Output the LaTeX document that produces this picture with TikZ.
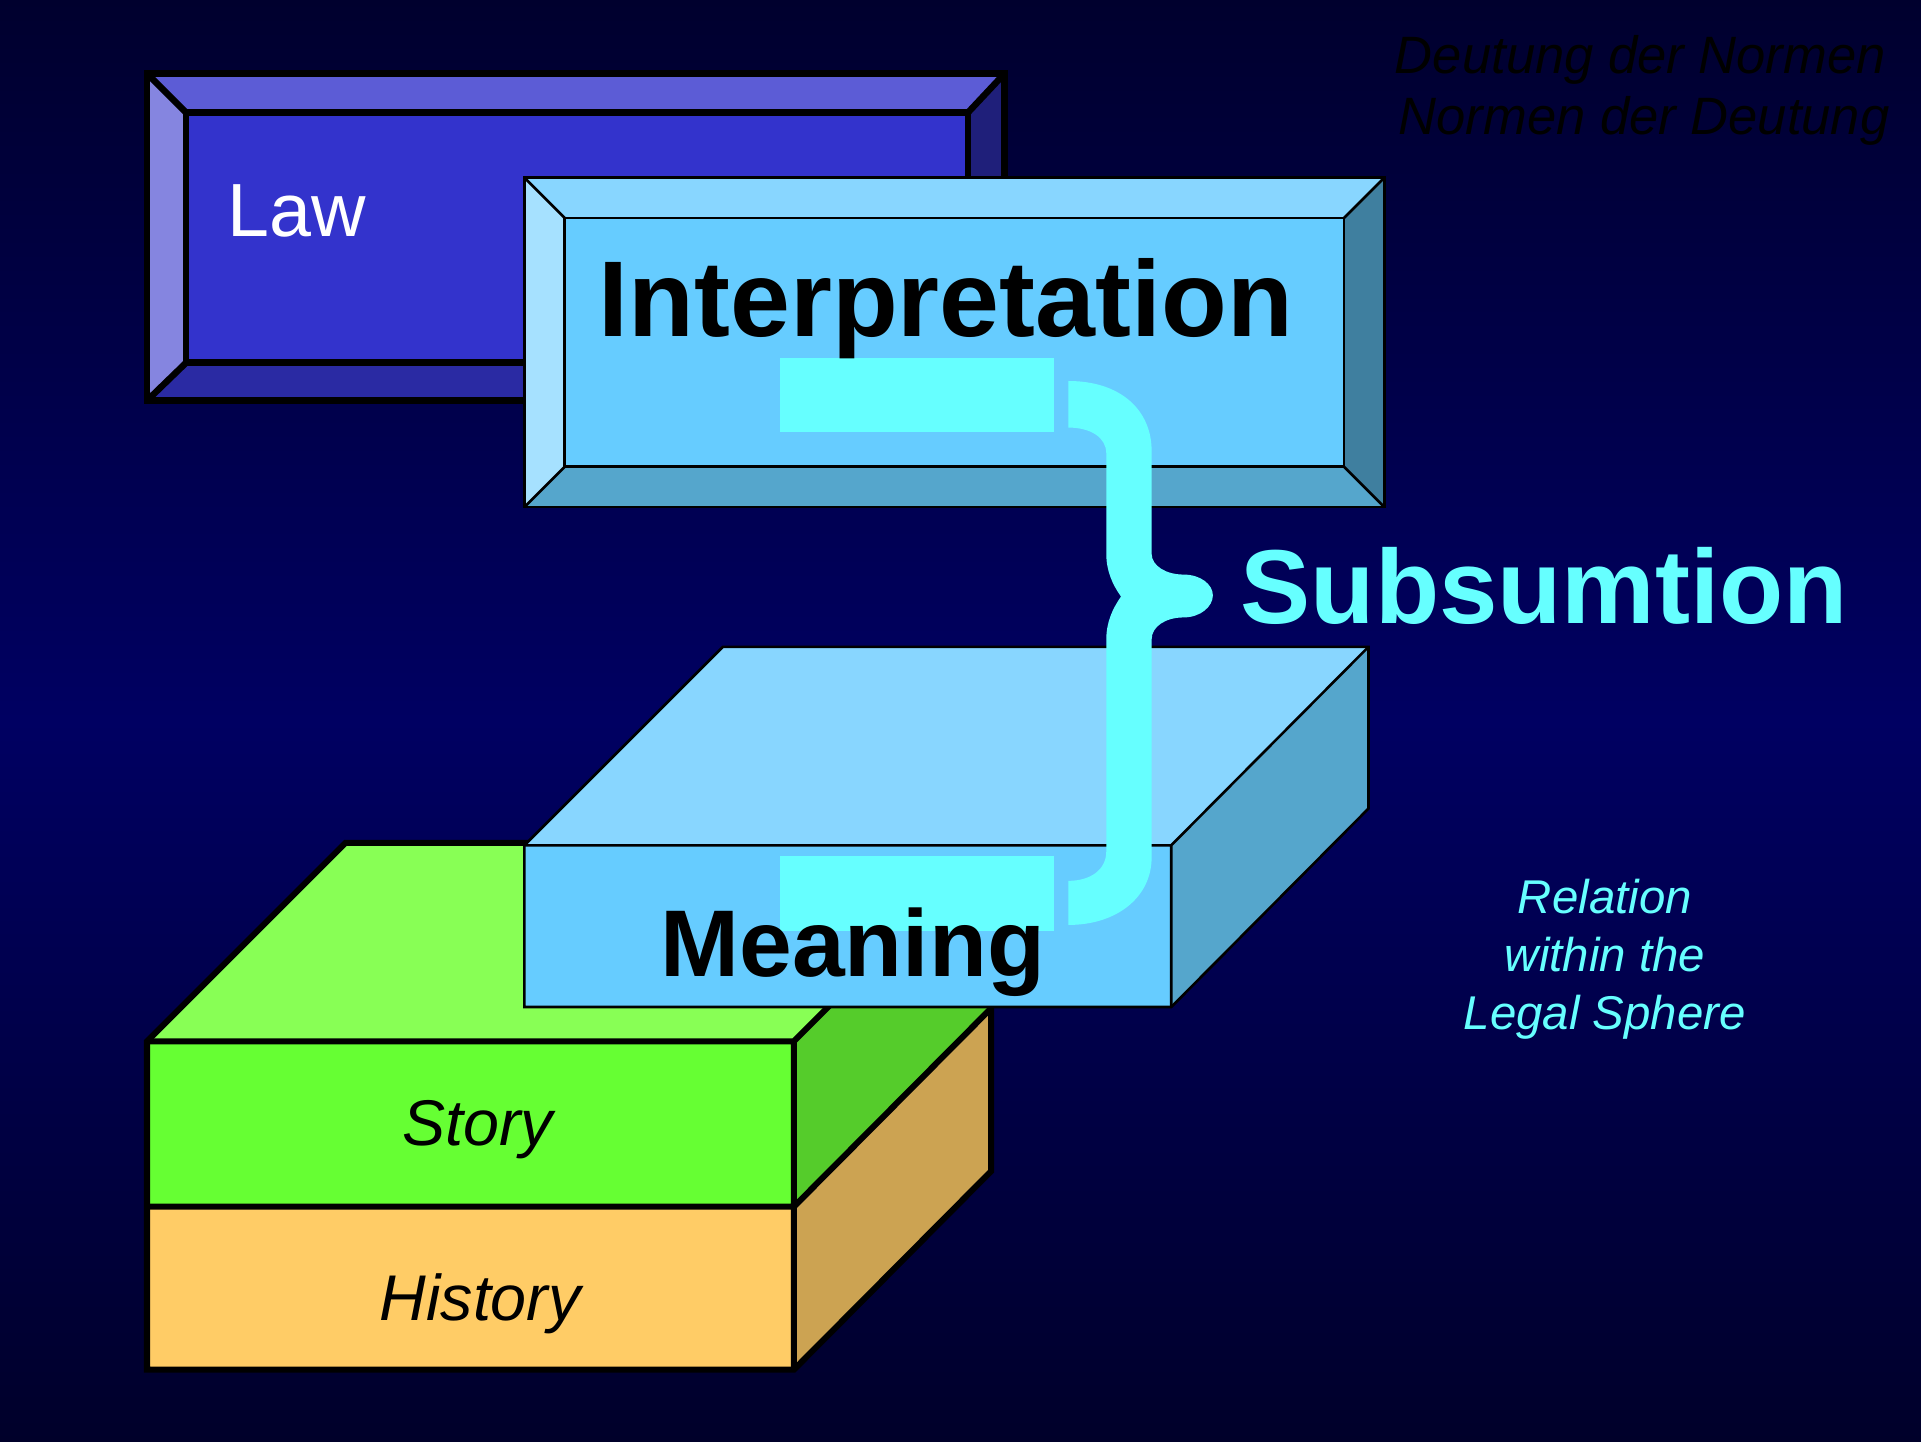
\documentclass[tikz,border=0pt]{standalone}
\usepackage{fontspec}
\setmainfont{Liberation Sans}
\usepackage{xcolor}
\usepackage{tikz}
\usetikzlibrary{positioning}
\definecolor{bgtop}{HTML}{00002E}
\definecolor{bgmid}{HTML}{000062}
\definecolor{bgbottom}{HTML}{00002A}
\definecolor{lawface}{HTML}{3333CC}
\definecolor{lawtop}{HTML}{5C5CD6}
\definecolor{lawleft}{HTML}{8585E0}
\definecolor{lawright}{HTML}{1F1F7A}
\definecolor{lawbottom}{HTML}{2A2AA3}
\definecolor{skyface}{HTML}{66CCFF}
\definecolor{skytop}{HTML}{88D6FF}
\definecolor{skyleft}{HTML}{A6E1FF}
\definecolor{skyright}{HTML}{3F7F9F}
\definecolor{skybottom}{HTML}{55A6CC}
\definecolor{storytop}{HTML}{88FF55}
\definecolor{storyfront}{HTML}{66FF33}
\definecolor{storyside}{HTML}{55CC2B}
\definecolor{historyfront}{HTML}{FFCC66}
\definecolor{historyside}{HTML}{CCA352}
\definecolor{accentcyan}{HTML}{66FFFF}
\tikzset{
  law_edge/.style={draw=black, line width=1.5pt, line join=miter},
  sky_edge/.style={draw=black, line width=0.6pt, line join=miter},
  block_edge/.style={draw=black, line width=1.4pt, line join=miter},
  accent_bar/.style={fill=accentcyan},
  label_big/.style={inner sep=0pt, font=\fontsize{25}{30}\selectfont\bfseries},
  label_mid/.style={inner sep=0pt, font=\fontsize{22}{26}\selectfont\bfseries},
  label_slant/.style={inner sep=0pt, font=\fontsize{15}{18}\selectfont\itshape},
  label_note/.style={inner sep=0pt, font=\fontsize{12.2}{14.2}\selectfont\itshape}
}
\begin{document}
\begin{tikzpicture}[x=0.01cm, y=-0.01cm]
% background
\path[use as bounding box, top color=bgtop, bottom color=bgbottom, middle color=bgmid] (0,0) rectangle (1568,1177);
% law box
\fill[lawtop] (120,60) -- (820,60) -- (790,92) -- (152,92) -- cycle;
\fill[lawleft] (120,60) -- (152,92) -- (152,296) -- (120,327) -- cycle;
\fill[lawright] (820,60) -- (820,327) -- (790,296) -- (790,92) -- cycle;
\fill[lawbottom] (120,327) -- (820,327) -- (790,296) -- (152,296) -- cycle;
\fill[lawface] (152,92) rectangle (790,296);
\draw[law_edge] (120,60) rectangle (820,327);
\draw[law_edge] (152,92) rectangle (790,296);
\draw[law_edge] (120,60) -- (152,92) (820,60) -- (790,92) (120,327) -- (152,296) (820,327) -- (790,296);
\node[inner sep=0pt, anchor=base west, text=white, font=\fontsize{17.5}{21}\selectfont] (law_label) at (185,193) {Law};
% interpretation box
\fill[skytop] (428,145) -- (1130,145) -- (1097,178) -- (461,178) -- cycle;
\fill[skyleft] (428,145) -- (461,178) -- (461,381) -- (428,414) -- cycle;
\fill[skyright] (1130,145) -- (1130,414) -- (1097,381) -- (1097,178) -- cycle;
\fill[skybottom] (428,414) -- (1130,414) -- (1097,381) -- (461,381) -- cycle;
\fill[skyface] (461,178) rectangle (1097,381);
\draw[sky_edge] (428,145) rectangle (1130,414);
\draw[sky_edge] (461,178) rectangle (1097,381);
\draw[sky_edge] (428,145) -- (461,178) (1130,145) -- (1097,178) (428,414) -- (461,381) (1130,414) -- (1097,381);
\fill[accent_bar] (637,292) rectangle (860,353);
\node[label_big, anchor=base] (interp_label) at (772,275) {Interpretation};
% story and history blocks
\fill[storytop] (120,850) -- (648,850) -- (809,688) -- (282,688) -- cycle;
\fill[storyside] (648,850) -- (809,688) -- (809,823) -- (648,985) -- cycle;
\fill[historyside] (648,985) -- (809,823) -- (809,956) -- (648,1118) -- cycle;
\fill[storyfront] (120,850) rectangle (648,985);
\fill[historyfront] (120,985) rectangle (648,1118);
\draw[block_edge] (120,850) -- (282,688) -- (809,688) -- (809,956) -- (648,1118) -- (120,1118) -- cycle;
\draw[block_edge] (120,850) -- (648,850) -- (809,688) (648,850) -- (648,1118) (120,985) -- (648,985) -- (809,823);
\node[label_slant, anchor=base] (story_label) at (390,935) {Story};
\node[label_slant, anchor=base] (history_label) at (392,1078) {History};
% meaning block
\fill[skytop] (428,690) -- (956,690) -- (1117,528) -- (590,528) -- cycle;
\fill[skybottom] (956,690) -- (1117,528) -- (1117,660) -- (956,822) -- cycle;
\fill[skyface] (428,690) rectangle (956,822);
\draw[sky_edge] (428,690) -- (590,528) -- (1117,528) -- (1117,660) -- (956,822) -- (428,822) -- cycle;
\draw[sky_edge] (428,690) -- (956,690) -- (1117,528) (956,690) -- (956,822);
\fill[accent_bar] (637,699) rectangle (860,760);
\node[label_mid, anchor=base] (meaning_label) at (696,797) {Meaning};
% brace
\fill[accentcyan] (872,311) .. controls (915,311) and (940,335) .. (940,368)
  -- (940,452) .. controls (940,462) and (952,469) .. (966,469)
  .. controls (980,469) and (990,477) .. (990,486)
  .. controls (990,495) and (980,504) .. (966,504)
  .. controls (952,504) and (940,511) .. (940,522)
  -- (940,700) .. controls (940,732) and (912,755) .. (872,755)
  -- (872,719) .. controls (890,719) and (903,710) .. (903,695)
  -- (903,522) .. controls (903,508) and (908,497) .. (915,487)
  .. controls (908,477) and (903,466) .. (903,452)
  -- (903,370) .. controls (903,357) and (890,349) .. (872,349) -- cycle;
\node[label_big, anchor=base west, text=accentcyan, font=\fontsize{24.4}{29}\selectfont\bfseries] (subsum_label) at (1012,509) {Subsumtion};
% notes
\node[label_note, anchor=base east] (deutung_line_a) at (1540,60) {Deutung der Normen};
\node[label_note, anchor=base east] (deutung_line_b) at (1543,110) {Normen der Deutung};
\node[inner sep=0pt, anchor=north, align=center, text=accentcyan, font=\fontsize{11}{13.4}\selectfont\itshape] (relation_note) at (1310,717) {Relation\\within the\\Legal Sphere};
\end{tikzpicture}
\end{document}
